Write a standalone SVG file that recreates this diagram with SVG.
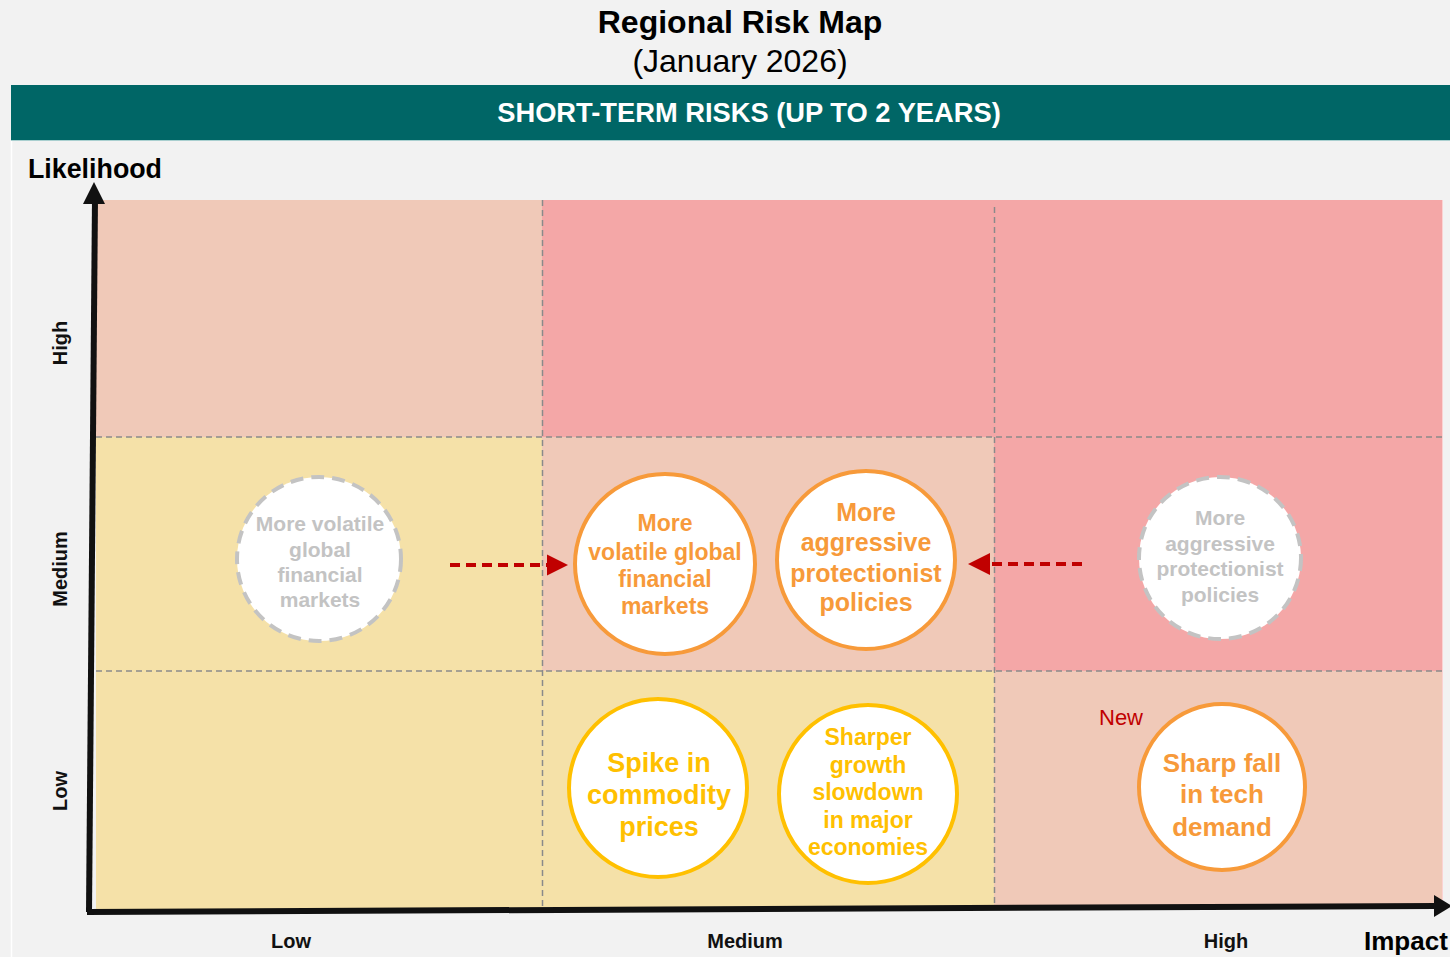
<svg xmlns="http://www.w3.org/2000/svg" width="1450" height="957" viewBox="0 0 1450 957">
<defs>
<style>
text{font-family:"Liberation Sans",Arial,sans-serif;text-anchor:middle}
.b{font-weight:bold}
.grid{stroke:#8a8a8a;stroke-width:1.5;stroke-dasharray:6 4;fill:none}
.ghost{fill:#fff;stroke:#c3c3c3;stroke-width:4;stroke-dasharray:13 8}
.ghost-t{fill:#c3c3c3;font-weight:bold;font-size:21px}
.org{fill:#fff;stroke:#f79a3a;stroke-width:4}
.org-t{fill:#f79a3a;font-weight:bold}
.yel{fill:#fff;stroke:#ffc000;stroke-width:4}
.yel-t{fill:#ffc000;font-weight:bold}
.axl{font-weight:bold;font-size:20px;fill:#111}
.arr{stroke:#c00000;stroke-width:4;stroke-dasharray:10 6;fill:none}
.head{fill:#c00000}
</style>
</defs>
<rect x="0" y="0" width="1450" height="957" fill="#f2f2f2"/>
<g id="title">
<text x="740" y="33" class="b" font-size="32" fill="#000">Regional Risk Map</text>
<text x="740" y="72" font-size="32" fill="#000">(January 2026)</text>
</g>
<g id="header">
<rect x="11" y="85" width="1439" height="55" fill="#006666"/>
<line x1="11" y1="140.5" x2="1450" y2="140.5" stroke="#a9cfcf" stroke-width="1"/>
<text x="749" y="122" class="b" font-size="27.3" fill="#fff">SHORT-TERM RISKS (UP TO 2 YEARS)</text>
</g>
<line x1="11.5" y1="141" x2="11.5" y2="957" stroke="#ffffff" stroke-width="1.5"/>
<g id="matrix">
<rect x="96" y="200" width="446" height="237" fill="#f0c9b8"/>
<rect x="542" y="200" width="452" height="237" fill="#f4a7a7"/>
<rect x="994" y="200" width="449" height="237" fill="#f4a7a7"/>
<rect x="96" y="437" width="446" height="234" fill="#f5e1a8"/>
<rect x="542" y="437" width="452" height="234" fill="#f0c9b8"/>
<rect x="994" y="437" width="449" height="234" fill="#f4a7a7"/>
<rect x="96" y="671" width="446" height="238" fill="#f5e1a8"/>
<rect x="542" y="671" width="452" height="236" fill="#f5e1a8"/>
<rect x="994" y="671" width="449" height="234" fill="#f0c9b8"/>
<line x1="1442.5" y1="200" x2="1442.5" y2="905" stroke="#fbd3d3" stroke-width="1"/>
<line class="grid" x1="542.5" y1="200" x2="542.5" y2="910"/>
<line class="grid" x1="994.5" y1="207" x2="994.5" y2="906"/>
<line class="grid" x1="96" y1="437" x2="1443" y2="437"/>
<line class="grid" x1="96" y1="671" x2="1443" y2="671"/>
</g>
<g id="axes">
<line x1="89" y1="912" x2="95" y2="198" stroke="#111" stroke-width="6"/>
<path d="M94,182 L105,204 L83,204 z" fill="#111"/>
<line x1="87" y1="912" x2="1436" y2="906" stroke="#111" stroke-width="6"/>
<path d="M1452,906 L1434,895 L1434,917 z" fill="#111"/>
<text x="28" y="178" class="b" font-size="26.8" fill="#000" style="text-anchor:start">Likelihood</text>
<text x="1364" y="950" class="b" font-size="26" fill="#000" style="text-anchor:start">Impact</text>
<text class="axl" x="291" y="948">Low</text>
<text class="axl" x="745" y="948">Medium</text>
<text class="axl" x="1226" y="948">High</text>
<text class="axl" transform="translate(67,343) rotate(-90)">High</text>
<text class="axl" transform="translate(67,569) rotate(-90)">Medium</text>
<text class="axl" transform="translate(67,791) rotate(-90)">Low</text>
</g>
<g id="connectors">
<line class="arr" x1="450" y1="565" x2="549" y2="565"/>
<path class="head" d="M547,554.5 L568,565 L547,575.5 z"/>
<line class="arr" x1="1082" y1="564" x2="988" y2="564"/>
<path class="head" d="M968,564 L990,553 L990,575 z"/>
</g>
<g id="ghost-volatile">
<circle class="ghost" cx="319" cy="559" r="82"/>
<text class="ghost-t" x="320" y="531">More volatile</text>
<text class="ghost-t" x="320" y="557">global</text>
<text class="ghost-t" x="320" y="582">financial</text>
<text class="ghost-t" x="320" y="607">markets</text>
</g>
<g id="node-volatile">
<circle class="org" cx="665" cy="564" r="90"/>
<text class="org-t" font-size="23" x="665" y="531">More</text>
<text class="org-t" font-size="23" x="665" y="560">volatile global</text>
<text class="org-t" font-size="23" x="665" y="587">financial</text>
<text class="org-t" font-size="23" x="665" y="614">markets</text>
</g>
<g id="node-protectionist">
<circle class="org" cx="866" cy="560" r="89"/>
<text class="org-t" font-size="25" x="866" y="521">More</text>
<text class="org-t" font-size="25" x="866" y="551">aggressive</text>
<text class="org-t" font-size="25" x="866" y="582">protectionist</text>
<text class="org-t" font-size="25" x="866" y="611">policies</text>
</g>
<g id="ghost-protectionist">
<circle class="ghost" cx="1220" cy="558" r="81"/>
<text class="ghost-t" x="1220" y="525">More</text>
<text class="ghost-t" x="1220" y="551">aggressive</text>
<text class="ghost-t" x="1220" y="576">protectionist</text>
<text class="ghost-t" x="1220" y="602">policies</text>
</g>
<g id="node-commodity">
<circle class="yel" cx="658" cy="788" r="89"/>
<text class="yel-t" font-size="27" x="659" y="772">Spike in</text>
<text class="yel-t" font-size="27" x="659" y="804">commodity</text>
<text class="yel-t" font-size="27" x="659" y="836">prices</text>
</g>
<g id="node-slowdown">
<circle class="yel" cx="868" cy="794" r="89"/>
<text class="yel-t" font-size="23" x="868" y="745">Sharper</text>
<text class="yel-t" font-size="23" x="868" y="773">growth</text>
<text class="yel-t" font-size="23" x="868" y="800">slowdown</text>
<text class="yel-t" font-size="23" x="868" y="828">in major</text>
<text class="yel-t" font-size="23" x="868" y="855">economies</text>
</g>
<g id="node-tech">
<circle class="org" cx="1222" cy="787" r="83"/>
<text class="org-t" font-size="26" x="1222" y="772">Sharp fall</text>
<text class="org-t" font-size="26" x="1222" y="803">in tech</text>
<text class="org-t" font-size="26" x="1222" y="836">demand</text>
<text x="1099" y="725" font-size="22" fill="#c00000" style="text-anchor:start">New</text>
</g>
</svg>
